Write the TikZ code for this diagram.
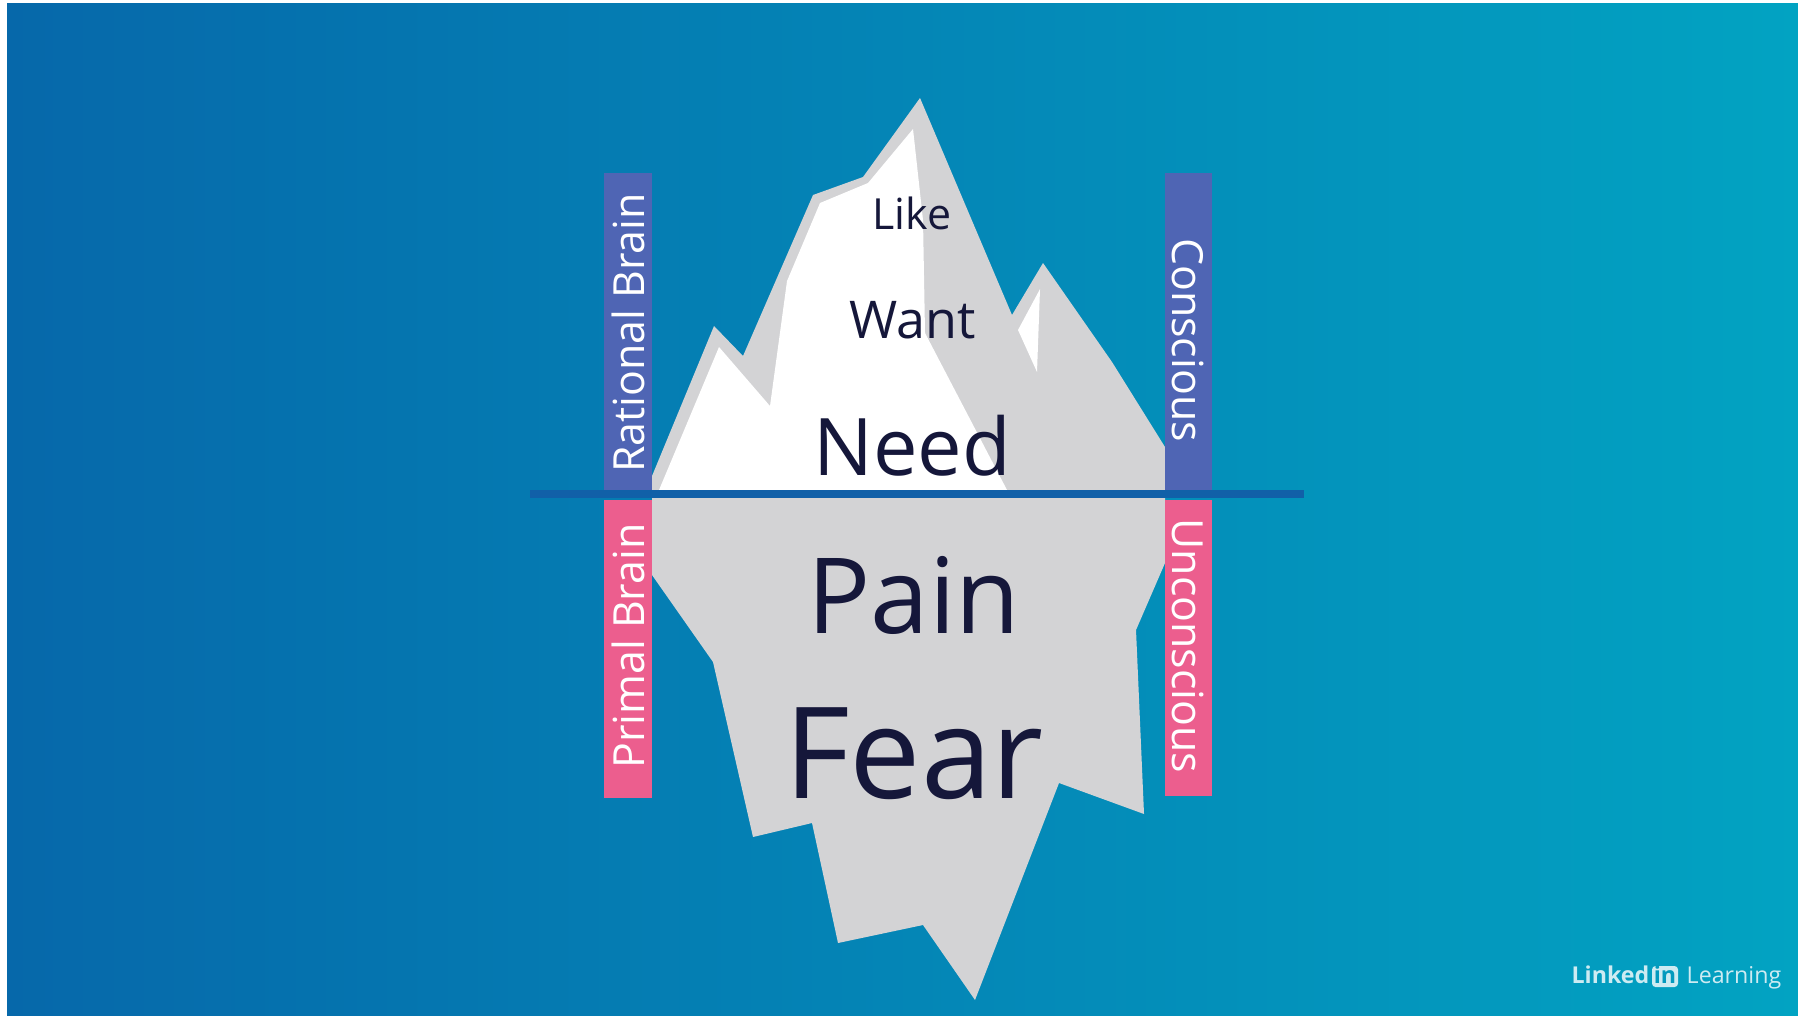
\documentclass[tikz,border=0pt]{standalone}
\usepackage{fontspec}
\setmainfont{Open Sans}
\definecolor{bgleft}{HTML}{0668AA}
\definecolor{bgright}{HTML}{02A3C2}
\definecolor{ice}{HTML}{D3D3D5}
\definecolor{sea}{HTML}{1160A8}
\definecolor{upperbar}{HTML}{4F65B4}
\definecolor{lowerbar}{HTML}{EC5E8E}
\definecolor{ink}{HTML}{15173A}
\definecolor{logo}{HTML}{CDEBF2}
\tikzstyle{word}=[text=ink, inner sep=0pt, anchor=base]
\tikzstyle{side}=[text=white, inner sep=0pt, font=\fontsize{12.2}{14}\selectfont]

\begin{document}
\begin{tikzpicture}[x=0.1mm, y=-0.1mm]
	\useasboundingbox (0,0) rectangle (1798,1015);
	% backdrop
	\fill[white] (0,0) rectangle (1798,1015);
	\shade[left color=bgleft, right color=bgright] (7,3) rectangle (1798,1015);
	% define coordinates
	\coordinate (sea west) at (530,494);
	\coordinate (sea east) at (1304,494);
	% iceberg
	\fill[ice] (652,476) -- (714,326) -- (743,356) -- (813,195) -- (863,177) -- (920,98)
		-- (1012,315) -- (1043,263) -- (1112,362) -- (1165,447) -- (1165,563) -- (1136,630)
		-- (1144,814) -- (1059,783) -- (975,1000) -- (923,925) -- (838,943) -- (812,823)
		-- (753,837) -- (713,662) -- (652,575) -- cycle;
	\fill[white] (659,490) -- (719,347) -- (770,406) -- (787,281) -- (820,203) -- (868,183)
		-- (913,129) -- (923,220) -- (925,333) -- (1007,490) -- cycle;
	\fill[white] (1040,289) -- (1018,330) -- (1037,372) -- cycle;
	% words on the ice
	\node[word, font=\fontsize{12.2}{14}\selectfont] (like) at (912,229) {Like};
	\node[word, font=\fontsize{14.8}{17}\selectfont] (want) at (913,338) {Want};
	\node[word, font=\fontsize{22.6}{25}\selectfont] (need) at (912,475) {Need};
	\node[word, font=\fontsize{29.9}{33}\selectfont] (pain) at (914,633) {Pain};
	\node[word, font=\fontsize{36.2}{40}\selectfont] (fear) at (914,798) {Fear};
	% side bars
	\fill[upperbar] (604,173) rectangle (652,490);
	\fill[lowerbar] (604,500) rectangle (652,798);
	\fill[upperbar] (1165,173) rectangle (1212,490);
	\fill[lowerbar] (1165,500) rectangle (1212,796);
	\node[side, rotate=90] (rational) at (628,333) {Rational Brain};
	\node[side, rotate=90] (primal) at (628,646) {Primal Brain};
	\node[side, rotate=-90] (conscious) at (1188,340) {Conscious};
	\node[side, rotate=-90] (unconscious) at (1188,646) {Unconscious};
	% waterline
	\draw[sea, line width=2.3pt] (sea west) -- (sea east);
	% logo
	\node[text=logo, inner sep=0pt, anchor=base east, font=\fontsize{6.6}{8}\bfseries] (linked) at (1650,983) {Linked};
	\fill[logo, rounded corners=1pt] (1652,966) rectangle (1678,987);
	\node[text=bgright!85!bgleft, inner sep=0pt, anchor=base, font=\fontsize{6.6}{8}\bfseries] (in) at (1665,983) {in};
	\node[text=logo, inner sep=0pt, anchor=base west, font=\fontsize{6.6}{8}\selectfont] (learning) at (1686,983) {Learning};
\end{tikzpicture}
\end{document}
